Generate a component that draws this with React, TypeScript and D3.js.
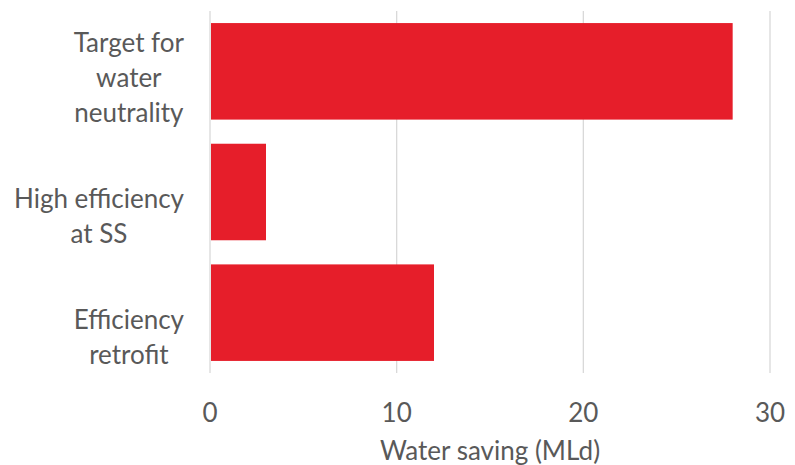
import React from "react";
import * as d3 from "d3";

const categories = ["Target for water neutrality", "High efficiency at SS", "Efficiency retrofit"];
const labelLines = [["Target for", "water", "neutrality"], ["High efficiency", "at SS"], ["Efficiency", "retrofit"]];
const values = [28, 3, 12];
const xTicks = [0, 10, 20, 30];
const xTitle = "Water saving (MLd)";

const W = 795, H = 465;
const left = 210, right = 770, top = 11, bottom = 373;
const FONT = "Lato, 'Open Sans', sans-serif";
const FS = 26;
const TEXT = "#595959";

let ctx: CanvasRenderingContext2D | null = null;
function measure(s: string) {
  if (!ctx) ctx = document.createElement("canvas").getContext("2d");
  if (!ctx) return s.length * FS * 0.5;
  ctx.font = `${FS}px Lato`;
  return ctx.measureText(s).width;
}

export default function App() {
  const x = d3.scaleLinear().domain([0, 30]).range([left, right]);
  const y = d3.scaleBand<string>().domain(categories).range([top, bottom]).paddingInner(0.2).paddingOuter(0.1);
  const lineH = 35;
  const labelRight = 184;
  return (
    <svg width={W} height={H} style={{ position: "absolute", left: 0, top: 0, background: "#fff" }}>
      {xTicks.map((t) => (
        <line key={t} x1={x(t)} x2={x(t)} y1={top} y2={bottom} stroke="#d9d9d9" strokeWidth={1.3} />
      ))}
      {categories.map((c, i) => (
        <rect key={c} x={x(0) + 1} y={y(c)!} width={x(values[i]) - x(0) - 1} height={y.bandwidth()} fill="#E61E2A" />
      ))}
      {categories.map((c, i) => {
        const cy = y(c)! + y.bandwidth() / 2;
        const n = labelLines[i].length;
        const bw = Math.max(...labelLines[i].map(measure));
        const cx = labelRight - bw / 2;
        return labelLines[i].map((ln, j) => (
          <text key={c + j} x={cx} y={cy + 41 - (n - 1 - j) * lineH} textAnchor="middle" dominantBaseline="central"
            fontFamily={FONT} fontSize={FS} fill={TEXT}>{ln}</text>
        ));
      })}
      {xTicks.map((t) => (
        <text key={"t" + t} x={x(t)} y={412} textAnchor="middle" dominantBaseline="central" fontFamily={FONT} fontSize={FS} fill={TEXT}>{t}</text>
      ))}
      <text x={(left + right) / 2} y={450} textAnchor="middle" dominantBaseline="central" fontFamily={FONT} fontSize={FS} fill={TEXT}>{xTitle}</text>
    </svg>
  );
}
